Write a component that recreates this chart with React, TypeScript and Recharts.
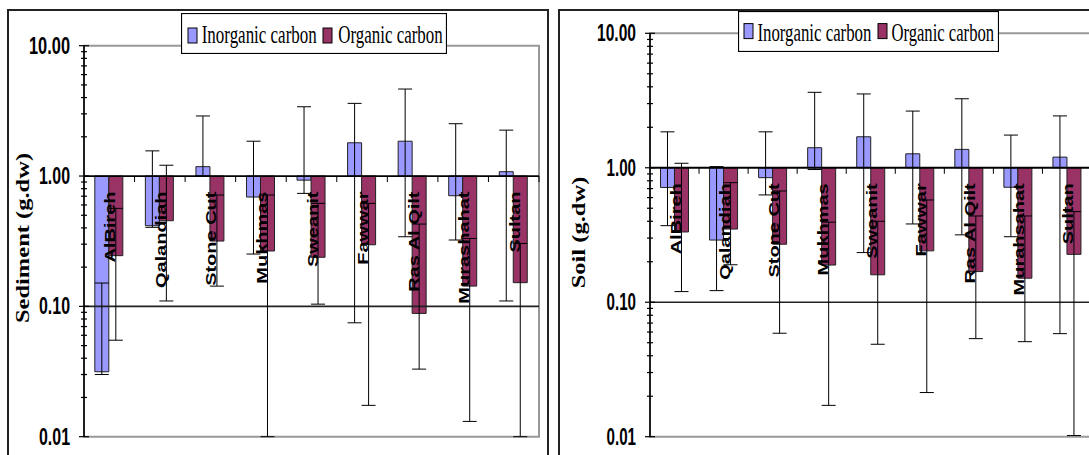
import React from 'react';
import {
  BarChart,
  Bar,
  XAxis,
  YAxis,
  ErrorBar,
  ReferenceLine,
  ReferenceArea,
  Legend,
} from 'recharts';

// categories
const sedimentSites = ['AlBireh', 'Qalandiah', 'Stone Cut', 'Mukhmas', 'Sweanit', 'Fawwar', 'Ras Al Qilt', 'Murashahat', 'Sultan'];
const soilSites = ['AlBireh', 'Qalandiah', 'Stone Cut', 'Mukhmas', 'Sweanit', 'Fawwar', 'Ras Al Qilt', 'Murahsahat', 'Sultan'];

// sediment (g.dw): means and error-bar ends
const sedInorganic = [0.0315, 0.416, 1.18, 0.69, 0.93, 1.8, 1.85, 0.706, 1.08];
const sedInorganicLow = [0.03, 0.404, 1.0, 0.252, 0.736, 0.0748, 0.342, 0.323, 0.11];
const sedInorganicHigh = [0.151, 1.56, 2.89, 1.85, 3.4, 3.61, 4.65, 2.52, 2.25];
const sedOrganic = [0.245, 0.454, 0.317, 0.266, 0.238, 0.297, 0.0883, 0.143, 0.152];
const sedOrganicLow = [0.055, 0.11, 0.143, 0.01, 0.104, 0.0174, 0.033, 0.0131, 0.01];
const sedOrganicHigh = [0.565, 1.21, 0.715, 0.715, 0.617, 0.617, 0.428, 0.332, 0.304];

// soil (g.dw)
const soilInorganic = [0.714, 0.29, 0.844, 1.41, 1.7, 1.27, 1.37, 0.716, 1.2];
const soilInorganicLow = [0.371, 0.122, 0.628, 0.97, 0.234, 0.382, 0.317, 0.307, 0.0584];
const soilInorganicHigh = [1.85, 1.02, 1.85, 3.64, 3.54, 2.64, 3.26, 1.75, 2.43];
const soilOrganic = [0.333, 0.35, 0.27, 0.189, 0.16, 0.241, 0.169, 0.151, 0.227];
const soilOrganicLow = [0.12, 0.19, 0.0588, 0.0171, 0.0487, 0.0213, 0.0536, 0.0509, 0.0102];
const soilOrganicHigh = [1.08, 0.775, 0.672, 0.394, 0.4, 0.576, 0.438, 0.438, 0.472];

// log axis ticks
const logTicks = [
  0.01, 0.02, 0.03, 0.04, 0.05, 0.06, 0.07, 0.08, 0.09,
  0.1, 0.2, 0.3, 0.4, 0.5, 0.6, 0.7, 0.8, 0.9,
  1, 2, 3, 4, 5, 6, 7, 8, 9, 10,
];
const majorTicks = [0.01, 0.1, 1, 10];
const majorLabels = ['0.01', '0.10', '1.00', '10.00'];

const INORGANIC = '#9999FF';
const ORGANIC = '#993366';
const SANS = '"Liberation Sans", Arial, sans-serif';
const SERIF = '"Liberation Serif", "Times New Roman", serif';

function buildRows(
  sites: string[],
  inorg: number[], inLow: number[], inHigh: number[],
  org: number[], orgLow: number[], orgHigh: number[],
) {
  return sites.map((site, i) => ({
    site,
    inorganic: [1, inorg[i]],
    inorganicErr: [inorg[i] - inLow[i], inHigh[i] - inorg[i]],
    organic: [1, org[i]],
    organicErr: [org[i] - orgLow[i], orgHigh[i] - org[i]],
  }));
}

const sedimentRows = buildRows(sedimentSites, sedInorganic, sedInorganicLow, sedInorganicHigh, sedOrganic, sedOrganicLow, sedOrganicHigh);
const soilRows = buildRows(soilSites, soilInorganic, soilInorganicLow, soilInorganicHigh, soilOrganic, soilOrganicLow, soilOrganicHigh);

interface LegendLayout {
  left: number;
  top: number;
  width: number;
  height: number;
  swatchX: number[];
  swatchY: number;
  textX: number[];
  textW: number[];
  baseline: number;
}

interface PanelProps {
  rows: any[];
  width: number;
  height: number;
  margin: { top: number; right: number; bottom: number; left: number };
  axisWidth: number;
  yLabel: string;
  yLabelX: number;
  yLabelY: number;
  tickWide: number;
  tickNarrow: number;
  legend: LegendLayout;
}

const X_AXIS_H = 10;

function CarbonPanel({
  rows, width, height, margin, axisWidth, yLabel, yLabelX, yLabelY, tickWide, tickNarrow, legend,
}: PanelProps) {
  const plotH = height - margin.top - margin.bottom - X_AXIS_H;
  const plotW = width - margin.left - margin.right - axisWidth;
  const band = plotW / rows.length;
  // the category axis crosses the log axis at 1.00 (one decade below the 10.00 top)
  const baseY = margin.top + plotH / 3;

  const renderYTick = (p: any) => {
    const v = p.payload.value;
    const idx = majorTicks.indexOf(v);
    const half = idx >= 0 ? 5 : 3;
    return (
      <g>
        <line x1={p.x - half} x2={p.x + half} y1={p.y} y2={p.y} stroke="#000" strokeWidth={1.2} />
        {idx >= 0 && (
          <text
            x={p.x - 14}
            y={p.y + 8}
            textAnchor="end"
            fontFamily={SANS}
            fontWeight="bold"
            fontSize={23}
            fill="#000"
            textLength={v === 10 ? tickWide : tickNarrow}
            lengthAdjust="spacingAndGlyphs"
          >
            {majorLabels[idx]}
          </text>
        )}
      </g>
    );
  };

  const renderXTick = (p: any) => (
    <g>
      <line x1={p.x + band / 2} x2={p.x + band / 2} y1={baseY} y2={baseY + 6} stroke="#000" strokeWidth={1} />
      <text
        transform={`translate(${p.x + 6},${baseY + 15.5}) rotate(-90) scale(1,0.75)`}
        textAnchor="end"
        fontFamily={SANS}
        fontWeight="bold"
        fontSize={20}
        fill="#000"
      >
        {p.payload.value}
      </text>
    </g>
  );

  const renderYLabel = () => (
    <text
      transform={`translate(${yLabelX},${yLabelY}) rotate(-90) scale(1,0.78)`}
      textAnchor="middle"
      fontFamily={SERIF}
      fontWeight="bold"
      fontSize={24.5}
      fill="#000"
    >
      {yLabel}
    </text>
  );

  const renderLegend = (props: any) => {
    const items = props.payload || [];
    return (
      <svg width={legend.width} height={legend.height} style={{ display: 'block' }}>
        <rect x={0.5} y={0.5} width={legend.width - 1} height={legend.height - 1} fill="#fff" stroke="#000" strokeWidth={1.2} />
        {items.map((item: any, i: number) => (
          <g key={item.value}>
            <rect x={legend.swatchX[i]} y={legend.swatchY} width={9} height={15} fill={item.color} stroke="#000" strokeWidth={1} />
            <text
              transform={`translate(${legend.textX[i]},${legend.baseline}) scale(1,1.47)`}
              fontFamily={SERIF}
              fontSize={17}
              fill="#000"
              textLength={legend.textW[i]}
              lengthAdjust="spacingAndGlyphs"
            >
              {item.value}
            </text>
          </g>
        ))}
      </svg>
    );
  };

  return (
    <BarChart
      width={width}
      height={height}
      data={rows}
      margin={margin}
      barCategoryGap="21.4%"
      barGap={0}
    >
      <ReferenceArea y1={0.01} y2={10} fill="none" fillOpacity={0} stroke="#999" strokeWidth={2} />
      <ReferenceLine y={0.1} stroke="#222" strokeWidth={1.6} />
      <ReferenceLine y={1} stroke="#000" strokeWidth={1.8} />
      <YAxis
        scale="log"
        type="number"
        domain={[0.01, 10]}
        allowDataOverflow
        ticks={logTicks}
        interval={0}
        width={axisWidth}
        tickSize={0}
        tickMargin={0}
        tickLine={false}
        axisLine={{ stroke: '#000', strokeWidth: 1.6 }}
        tick={renderYTick}
        label={renderYLabel}
      />
      <Bar dataKey="inorganic" name="Inorganic carbon" fill={INORGANIC} stroke="#222" strokeWidth={1} isAnimationActive={false}>
        <ErrorBar dataKey="inorganicErr" direction="y" width={7} stroke="#000" strokeWidth={1} isAnimationActive={false} />
      </Bar>
      <Bar dataKey="organic" name="Organic carbon" fill={ORGANIC} stroke="#222" strokeWidth={1} isAnimationActive={false}>
        <ErrorBar dataKey="organicErr" direction="y" width={7} stroke="#000" strokeWidth={1} isAnimationActive={false} />
      </Bar>
      <XAxis
        dataKey="site"
        interval={0}
        height={X_AXIS_H}
        axisLine={false}
        tickLine={false}
        tick={renderXTick}
      />
      <Legend
        layout="vertical"
        align="center"
        verticalAlign="middle"
        wrapperStyle={{ left: legend.left, top: legend.top, width: legend.width, height: legend.height }}
        content={renderLegend}
      />
    </BarChart>
  );
}

export default function App() {
  return (
    <div style={{ position: 'absolute', left: 0, top: 0, width: 1089, height: 455, overflow: 'hidden', background: '#fff' }}>
      <div style={{ position: 'absolute', left: 6.5, top: 9, width: 542.5, height: 520, border: '2px solid #222', boxSizing: 'border-box' }} />
      <div style={{ position: 'absolute', left: 558, top: 9, width: 600, height: 520, border: '2px solid #222', boxSizing: 'border-box' }} />
      <div style={{ position: 'absolute', left: 0, top: 0 }}>
        <CarbonPanel
          rows={sedimentRows}
          width={548}
          height={455}
          margin={{ top: 45.7, right: 9, bottom: 8.3, left: 0 }}
          axisWidth={84}
          yLabel="Sediment (g.dw)"
          yLabelX={28.5}
          yLabelY={238}
          tickWide={41}
          tickNarrow={31}
          legend={{
            left: 181, top: 13, width: 266, height: 41,
            swatchX: [7, 142], swatchY: 15,
            textX: [20.7, 157.3], textW: [115, 104.4], baseline: 30.3,
          }}
        />
      </div>
      <div style={{ position: 'absolute', left: 548, top: 0 }}>
        <CarbonPanel
          rows={soilRows}
          width={548}
          height={455}
          margin={{ top: 33.3, right: 4.5, bottom: 8.3, left: 0 }}
          axisWidth={102}
          yLabel="Soil (g.dw)"
          yLabelX={37}
          yLabelY={232.5}
          tickWide={39}
          tickNarrow={29.5}
          legend={{
            left: 190.3, top: 10.7, width: 261, height: 41,
            swatchX: [6, 140], swatchY: 12.6,
            textX: [19.4, 153.4], textW: [114, 102.7], baseline: 30,
          }}
        />
      </div>
    </div>
  );
}
